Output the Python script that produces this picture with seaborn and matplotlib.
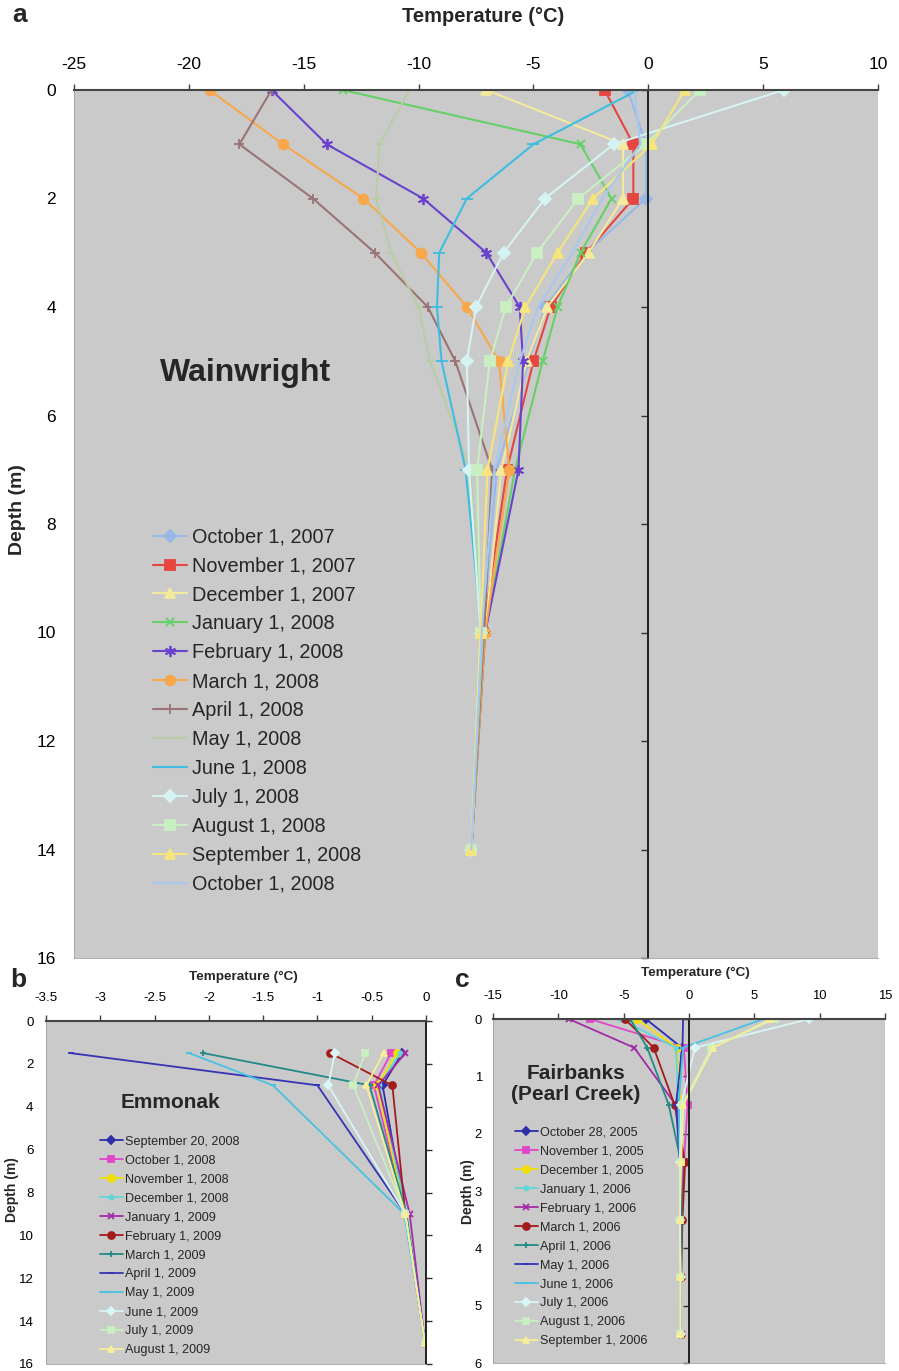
import matplotlib
matplotlib.use("Agg")
import matplotlib.pyplot as plt
import seaborn as sns
from matplotlib.ticker import FuncFormatter

W, H = 899, 1371
BG = "#cacaca"

# ── panel a: Wainwright ──────────────────────────────────────────────────
A_DEPTHS = [0, 1, 2, 3, 4, 5, 7, 10, 14]
A_LABELS = [
    "October 1, 2007", "November 1, 2007", "December 1, 2007",
    "January 1, 2008", "February 1, 2008", "March 1, 2008",
    "April 1, 2008", "May 1, 2008", "June 1, 2008", "July 1, 2008",
    "August 1, 2008", "September 1, 2008", "October 1, 2008",
]
A_OCT07 = [-0.9, -0.1, -0.1, -2.7, -4.5, -5.2, -6.6, -7.2, -7.7]
A_NOV07 = [-1.9, -0.65, -0.65, -2.7, -4.25, -5.0, -6.15, -7.2, -7.7]
A_DEC07 = [-7.05, -1.1, -1.1, -2.6, -4.4, -5.3, -6.4, -7.1, -7.7]
A_JAN08 = [-13.3, -2.95, -1.6, -2.95, -3.95, -4.6, -5.8, -7.1, -7.7]
A_FEB08 = [-16.4, -14.0, -9.8, -7.05, -5.6, -5.45, -5.65, -7.1, -7.7]
A_MAR08 = [-19.1, -15.9, -12.4, -9.9, -7.9, -6.5, -6.05, -7.1, -7.7]
A_APR08 = [-16.4, -17.8, -14.6, -11.9, -9.6, -8.4, -6.8, -7.15, -7.7]
A_MAY08 = [-10.4, -11.7, -11.85, -11.2, -10.0, -9.5, -7.75, -7.2, -7.7]
A_JUN08 = [-0.45, -5.0, -7.9, -9.1, -9.2, -9.0, -7.95, -7.25, -7.7]
A_JUL08 = [5.9, -1.5, -4.5, -6.3, -7.5, -7.9, -7.8, -7.3, -7.7]
A_AUG08 = [2.25, -0.1, -3.05, -4.85, -6.2, -6.9, -7.45, -7.3, -7.7]
A_SEP08 = [1.6, 0.15, -2.4, -3.95, -5.35, -6.1, -7.0, -7.3, -7.7]
A_OCT08 = [-0.6, -0.35, -2.0, -3.3, -4.8, -5.6, -6.7, -7.25, -7.7]
A_SERIES = [A_OCT07, A_NOV07, A_DEC07, A_JAN08, A_FEB08, A_MAR08, A_APR08,
            A_MAY08, A_JUN08, A_JUL08, A_AUG08, A_SEP08, A_OCT08]

# ── panel b: Emmonak ─────────────────────────────────────────────────────
B_DEPTHS = [1.5, 3, 9, 15]
B_LABELS = [
    "September 20, 2008", "October 1, 2008", "November 1, 2008",
    "December 1, 2008", "January 1, 2009", "February 1, 2009",
    "March 1, 2009", "April 1, 2009", "May 1, 2009", "June 1, 2009",
    "July 1, 2009", "August 1, 2009",
]
B_SEP08 = [-0.22, -0.40, -0.19, -0.01]
B_OCT08 = [-0.32, -0.48, -0.19, -0.01]
B_NOV08 = [-0.27, -0.45, -0.19, -0.01]
B_DEC08 = [-0.24, -0.43, -0.18, -0.01]
B_JAN09 = [-0.19, -0.44, -0.15, -0.01]
B_FEB09 = [-0.88, -0.31, -0.19, -0.01]
B_MAR09 = [-2.05, -0.52, -0.18, -0.01]
B_APR09 = [-3.27, -1.0, -0.19, -0.01]
B_MAY09 = [-2.18, -1.41, -0.20, -0.01]
B_JUN09 = [-0.84, -0.90, -0.19, -0.01]
B_JUL09 = [-0.56, -0.67, -0.19, -0.01]
B_AUG09 = [-0.39, -0.55, -0.19, -0.01]
B_SERIES = [B_SEP08, B_OCT08, B_NOV08, B_DEC08, B_JAN09, B_FEB09, B_MAR09,
            B_APR09, B_MAY09, B_JUN09, B_JUL09, B_AUG09]

# ── panel c: Fairbanks (Pearl Creek) ─────────────────────────────────────
C_DEPTHS = [0, 0.5, 1.5, 2.5, 3.5, 4.5, 5.5]
C_LABELS = [
    "October 28, 2005", "November 1, 2005", "December 1, 2005",
    "January 1, 2006", "February 1, 2006", "March 1, 2006",
    "April 1, 2006", "May 1, 2006", "June 1, 2006", "July 1, 2006",
    "August 1, 2006", "September 1, 2006",
]
C_OCT05 = [-3.3, -0.55, -0.9, -0.6, -0.65, -0.65, -0.65]
C_NOV05 = [-7.6, -0.4, -0.1, -0.4, -0.6, -0.65, -0.65]
C_DEC05 = [-4.0, -0.95, -0.6, -0.5, -0.6, -0.65, -0.65]
C_JAN06 = [-5.3, -1.0, -0.8, -0.55, -0.6, -0.65, -0.65]
C_FEB06 = [-9.2, -4.2, -1.0, -0.4, -0.55, -0.65, -0.65]
C_MAR06 = [-4.9, -2.7, -1.1, -0.3, -0.5, -0.6, -0.65]
C_APR06 = [-4.5, -3.2, -1.55, -0.6, -0.55, -0.6, -0.65]
C_MAY06 = [-0.45, -0.5, -1.0, -0.7, -0.6, -0.65, -0.65]
C_JUN06 = [5.7, -0.45, -0.8, -0.7, -0.65, -0.65, -0.65]
C_JUL06 = [9.2, 0.45, -0.6, -0.7, -0.7, -0.65, -0.65]
C_AUG06 = [6.6, 1.7, -0.5, -0.65, -0.7, -0.66, -0.66]
C_SEP06 = [6.3, 1.85, -0.45, -0.6, -0.7, -0.66, -0.66]
C_SERIES = [C_OCT05, C_NOV05, C_DEC05, C_JAN06, C_FEB06, C_MAR06, C_APR06,
            C_MAY06, C_JUN06, C_JUL06, C_AUG06, C_SEP06]

STAR = (6, 2, 0)
# (colour, marker, marker size)
A_STYLE = [
    ("#96b9e8", "D", 6), ("#e5463f", "s", 7), ("#f3ea9e", "^", 7),
    ("#66d166", "x", 6), ("#6a43cc", STAR, 8), ("#f8a84a", "o", 7),
    ("#9a7474", "+", 7), ("#b9cda6", "_", 6), ("#3ebde0", "_", 8),
    ("#d6f3f3", "D", 6), ("#c9efc2", "s", 7), ("#f5e57c", "^", 7),
    ("#a9c8f0", "", 0),
]
B_STYLE = [
    ("#2d2da8", "D", 4), ("#e246c8", "s", 5), ("#f2e000", "o", 5),
    ("#62d6d6", "o", 3), ("#a42aa8", "x", 4), ("#a31c1c", "o", 5),
    ("#228a86", "+", 5), ("#3434b4", "_", 4), ("#48c2e2", "_", 5),
    ("#d8f6f6", "D", 4), ("#c8f0c0", "s", 5), ("#f7ee98", "^", 5),
]
C_STYLE = B_STYLE

sns.set_style("white")
plt.rcParams["font.family"] = ["Liberation Sans", "DejaVu Sans"]
plt.rcParams["axes.unicode_minus"] = False

fig = plt.figure(figsize=(W / 100, H / 100), dpi=100)


def box(left, top, right, bottom):
    return [left / W, 1 - bottom / H, (right - left) / W, (bottom - top) / H]


def ftext(x, y, s, **kw):
    fig.text(x / W, 1 - y / H, s, **kw)


def draw_profiles(ax, depths, series, labels, styles, lw):
    for temps, label, (col, mk, ms) in zip(series, labels, styles):
        sns.lineplot(x=temps, y=depths, orient="y", sort=True, ax=ax,
                     color=col, linewidth=lw, marker=mk if mk else None,
                     markersize=ms, markeredgecolor=col, markerfacecolor=col,
                     markeredgewidth=1.3, label=label)


def style_axes(ax, xlim, ymax, xticks, yticks, fs, xpad, ypad, ydir, ylen):
    ax.set_facecolor(BG)
    ax.set_xlim(*xlim)
    ax.set_ylim(ymax, 0)
    ax.set_xticks(xticks)
    ax.set_yticks(yticks)
    ax.set_xlabel("")
    ax.set_ylabel("")
    fmt = FuncFormatter(lambda v, p: f"{v:g}")
    ax.xaxis.set_major_formatter(fmt)
    ax.yaxis.set_major_formatter(fmt)
    ax.xaxis.set_ticks_position("top")
    ax.tick_params(axis="x", direction="out", length=4, width=1,
                   color="#404040", labelsize=fs, pad=xpad, labelcolor="black")
    ax.spines["right"].set_position(("data", 0))
    ax.tick_params(axis="y", left=False, right=True, labelleft=True,
                   labelright=False, direction=ydir, length=ylen, width=1,
                   color="#303030", labelsize=fs, pad=ypad, labelcolor="black")
    ax.spines["top"].set_color("#444444")
    ax.spines["top"].set_linewidth(1.5)
    ax.spines["right"].set_color("#202020")
    ax.spines["right"].set_linewidth(1.4)
    for s in ("left", "bottom"):
        ax.spines[s].set_color("#a0a0a0")
        ax.spines[s].set_linewidth(0.6)


# ── panel a ──────────────────────────────────────────────────────────────
ax_a = fig.add_axes(box(74, 90, 878, 958))
draw_profiles(ax_a, A_DEPTHS, A_SERIES, A_LABELS, A_STYLE, 1.5)
style_axes(ax_a, (-25, 10), 16, range(-25, 11, 5), range(0, 17, 2),
           12.5, 9, 13, "in", 5)
ax_a.legend(loc="center left", bbox_to_anchor=(0.098, 0.285), frameon=False,
            fontsize=14.3, handlelength=1.7, handletextpad=0.25,
            labelspacing=0.5, borderpad=0, borderaxespad=0)
ftext(12, 15, "a", fontsize=19, fontweight="bold", ha="left", va="center")
ftext(483, 17, "Temperature (°C)", fontsize=14.5, fontweight="bold",
      ha="center", va="center")
ftext(18, 510, "Depth (m)", fontsize=14, fontweight="bold", rotation=90,
      ha="center", va="center")
ftext(160, 373, "Wainwright", fontsize=23, fontweight="bold",
      ha="left", va="center")

# ── panel b ──────────────────────────────────────────────────────────────
ax_b = fig.add_axes(box(46, 1021, 426, 1364))
draw_profiles(ax_b, B_DEPTHS, B_SERIES, B_LABELS, B_STYLE, 1.3)
b_ticks = [-3.5, -3, -2.5, -2, -1.5, -1, -0.5, 0]
style_axes(ax_b, (-3.5, 0), 16, b_ticks, range(0, 17, 2),
           9.6, 8, 5, "out", 4)
ax_b.legend(loc="center left", bbox_to_anchor=(0.142, 0.344), frameon=False,
            fontsize=9.1, handlelength=1.8, handletextpad=0.2,
            labelspacing=0.55, borderpad=0, borderaxespad=0)
ftext(10, 980, "b", fontsize=19, fontweight="bold", ha="left", va="center")
ftext(243, 977, "Temperature (°C)", fontsize=9.7, fontweight="bold",
      ha="center", va="center")
ftext(12, 1190, "Depth (m)", fontsize=10, fontweight="bold", rotation=90,
      ha="center", va="center")
ftext(121, 1103, "Emmonak", fontsize=15, fontweight="bold",
      ha="left", va="center")

# ── panel c ──────────────────────────────────────────────────────────────
ax_c = fig.add_axes(box(493, 1019, 885, 1363))
draw_profiles(ax_c, C_DEPTHS, C_SERIES, C_LABELS, C_STYLE, 1.3)
style_axes(ax_c, (-15, 15), 6, range(-15, 16, 5), range(0, 7),
           9.4, 8, 8, "in", 4)
ax_c.legend(loc="center left", bbox_to_anchor=(0.056, 0.366), frameon=False,
            fontsize=9.1, handlelength=1.8, handletextpad=0.2,
            labelspacing=0.55, borderpad=0, borderaxespad=0)
ftext(455, 980, "c", fontsize=19, fontweight="bold", ha="left", va="center")
ftext(695, 973, "Temperature (°C)", fontsize=9.7, fontweight="bold",
      ha="center", va="center")
ftext(468, 1192, "Depth (m)", fontsize=10, fontweight="bold", rotation=90,
      ha="center", va="center")
ftext(576, 1084, "Fairbanks\n(Pearl Creek)", fontsize=15, fontweight="bold",
      ha="center", va="center", linespacing=1.15)

fig.savefig("out.png", dpi=100, facecolor="white")
